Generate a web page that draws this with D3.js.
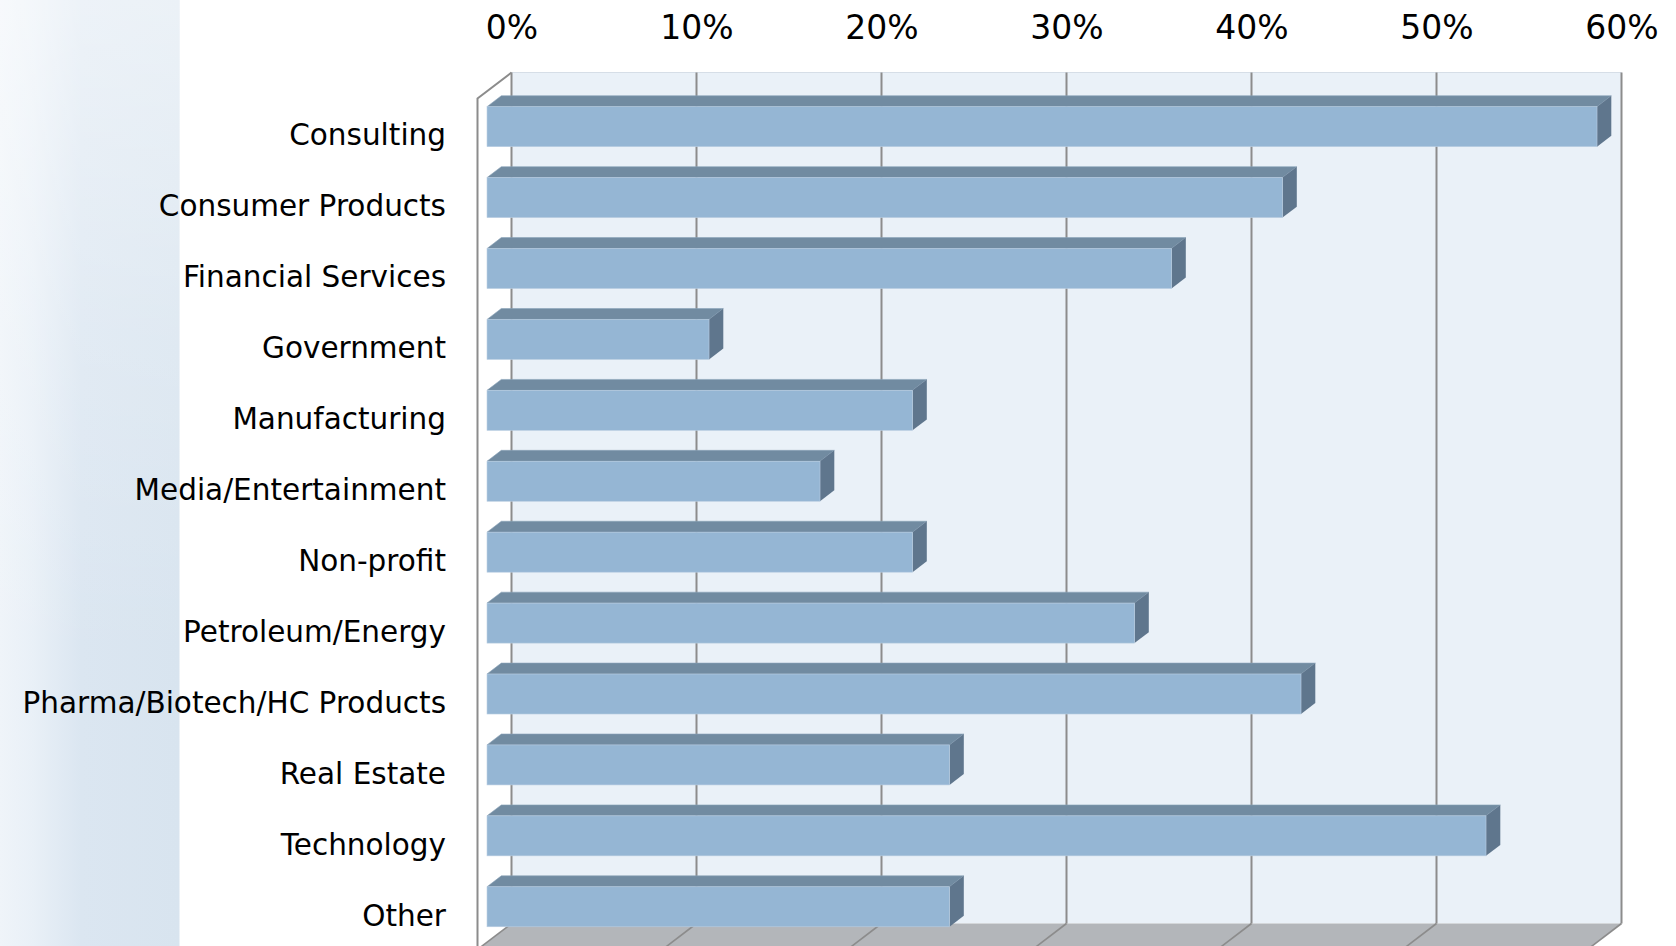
<!DOCTYPE html>
<html>
<head>
<meta charset="utf-8">
<script src="https://cdn.jsdelivr.net/npm/d3@7/dist/d3.min.js"></script>
<style>
  html, body { margin: 0; padding: 0; background: #ffffff; }
  svg { display: block; }
</style>
</head>
<body>
<svg id="chart" width="1676" height="946"></svg>
<script>
// Industries represented (share of respondents)
const categories = [
  "Consulting",
  "Consumer Products",
  "Financial Services",
  "Government",
  "Manufacturing",
  "Media/Entertainment",
  "Non-profit",
  "Petroleum/Energy",
  "Pharma/Biotech/HC Products",
  "Real Estate",
  "Technology",
  "Other"
];
const shares = [0.60, 0.43, 0.37, 0.12, 0.23, 0.18, 0.23, 0.35, 0.44, 0.25, 0.54, 0.25];
const tickValues = [0, 0.1, 0.2, 0.3, 0.4, 0.5, 0.6];

const W = 1676, H = 946;
const svg = d3.select("#chart");
const defs = svg.append("defs");

// ---- decorative side band on the left ----
const gH = defs.append("linearGradient").attr("id", "bandH")
  .attr("x1", "0").attr("y1", "0").attr("x2", "1").attr("y2", "0");
[[0, "#eff4f9"], [0.18, "#e9f0f7"], [0.45, "#dbe6f1"], [1, "#d8e4ef"]]
  .forEach(([o, c]) => gH.append("stop").attr("offset", o).attr("stop-color", c));
const gV = defs.append("linearGradient").attr("id", "bandV")
  .attr("x1", "0").attr("y1", "0").attr("x2", "0").attr("y2", "1");
[[0, 0.5], [0.35, 0.2], [0.7, 0.0], [1, 0.0]]
  .forEach(([o, a]) => gV.append("stop").attr("offset", o)
    .attr("stop-color", "#ffffff").attr("stop-opacity", a));

svg.append("rect").attr("x", 0).attr("y", 0).attr("width", 179.5).attr("height", H)
  .attr("fill", "url(#bandH)");
svg.append("rect").attr("x", 0).attr("y", 0).attr("width", 179.5).attr("height", H)
  .attr("fill", "url(#bandV)");

// ---- 3-D plot box ----
const x = d3.scaleLinear().domain([0, 0.6]).range([511.5, 1621.5]);
const y = d3.scaleBand().domain(categories).range([72.5, 923.5])
  .paddingInner(0.436).paddingOuter(0.218);

// depth vector from the back wall to the front plane
const DX = -34, DY = 26;
const tBack = 0.30, tFront = 0.72;   // depth slice occupied by the bars

const wallTop = y.range()[0], wallBottom = y.range()[1];
const gridColor = "#8c8c8c";

const plot = svg.append("g");

// back wall
plot.append("rect")
  .attr("x", x(0)).attr("y", wallTop)
  .attr("width", x(0.6) - x(0)).attr("height", wallBottom - wallTop)
  .attr("fill", "#eaf1f8");
plot.append("line")
  .attr("x1", x(0)).attr("x2", x(0.6)).attr("y1", wallTop).attr("y2", wallTop)
  .attr("stroke", "#d6dee7").attr("stroke-width", 1);

// floor
const floorPts = [
  [x(0), wallBottom], [x(0.6), wallBottom],
  [x(0.6) + DX, wallBottom + DY], [x(0) + DX, wallBottom + DY]
];
plot.append("polygon")
  .attr("points", floorPts.map(p => p.join(",")).join(" "))
  .attr("fill", "#b3b6ba");

// vertical gridlines on the back wall and their diagonals on the floor
plot.selectAll("line.grid").data(tickValues).join("line")
  .attr("class", "grid")
  .attr("x1", d => x(d)).attr("x2", d => x(d))
  .attr("y1", wallTop).attr("y2", wallBottom)
  .attr("stroke", gridColor).attr("stroke-width", 2);
plot.selectAll("line.floorgrid").data(tickValues).join("line")
  .attr("class", "floorgrid")
  .attr("x1", d => x(d)).attr("x2", d => x(d) + DX)
  .attr("y1", wallBottom).attr("y2", wallBottom + DY)
  .attr("stroke", gridColor).attr("stroke-width", 1.6);

// left side wall outline
plot.append("polyline")
  .attr("points", [
    [x(0), wallTop], [x(0) + DX, wallTop + DY], [x(0) + DX, H + 5]
  ].map(p => p.join(",")).join(" "))
  .attr("fill", "none").attr("stroke", gridColor).attr("stroke-width", 2);

// ---- bars ----
const bw = y.bandwidth();
const bars = plot.selectAll("g.bar").data(categories.map((c, i) => ({ c, v: shares[i] })))
  .join("g").attr("class", "bar");

const pt = (px, py, t) => [px + DX * t, py + DY * t];
const poly = pts => pts.map(p => p.join(",")).join(" ");

// top face
bars.append("polygon")
  .attr("points", d => {
    const x0 = x(0), x1 = x(d.v), yt = y(d.c);
    return poly([pt(x0, yt, tBack), pt(x1, yt, tBack), pt(x1, yt, tFront), pt(x0, yt, tFront)]);
  })
  .attr("fill", "#718ba1")
  .attr("stroke", "#8aa2b8").attr("stroke-width", 0.6);

// end face
bars.append("polygon")
  .attr("points", d => {
    const x1 = x(d.v), yt = y(d.c), yb = yt + bw;
    return poly([pt(x1, yt, tBack), pt(x1, yb, tBack), pt(x1, yb, tFront), pt(x1, yt, tFront)]);
  })
  .attr("fill", "#5f768d");

// front face
bars.append("rect")
  .attr("x", d => x(0) + DX * tFront)
  .attr("y", d => y(d.c) + DY * tFront)
  .attr("width", d => x(d.v) - x(0))
  .attr("height", bw)
  .attr("fill", "#95b6d4")
  .attr("stroke", "#b9cde1").attr("stroke-width", 0.6);

// ---- axis labels ----
const fontFamily = "'DejaVu Sans', 'Open Sans', sans-serif";

const axis = d3.axisTop(x)
  .tickValues(tickValues)
  .tickFormat(d3.format(".0%"))
  .tickSize(0).tickPadding(0);
const axG = svg.append("g").attr("transform", "translate(0,38.5)").call(axis);
axG.select(".domain").remove();
axG.selectAll("text")
  .attr("font-family", fontFamily)
  .attr("font-size", 33)
  .attr("fill", "#000");

svg.append("g").selectAll("text").data(categories).join("text")
  .attr("x", 446)
  .attr("y", d => y(d) + bw / 2 + DY + 11.5)
  .attr("text-anchor", "end")
  .attr("font-family", fontFamily)
  .attr("font-size", 29.5)
  .attr("fill", "#000")
  .text(d => d);
</script>
</body>
</html>
